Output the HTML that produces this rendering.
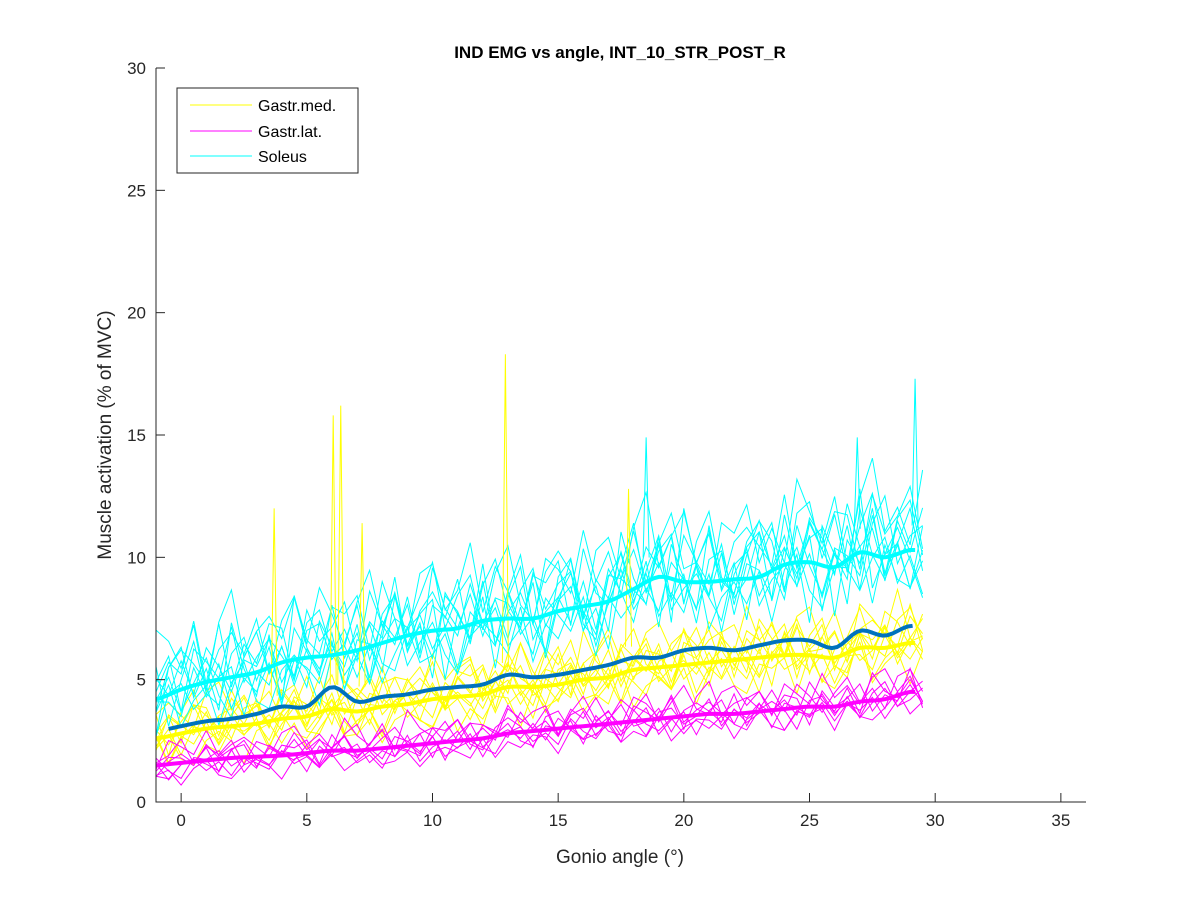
<!DOCTYPE html>
<html><head><meta charset="utf-8"><style>
body{margin:0;background:#fff;}
svg text{font-family:"Liberation Sans",Arial,sans-serif;}
</style></head><body>
<svg id="chart" width="1200" height="900" xmlns="http://www.w3.org/2000/svg">
<rect width="1200" height="900" fill="#fff"/>
<g id="plot"></g>
<g id="axes"></g>
</svg>
<script>
const xTicks=[0,5,10,15,20,25,30,35];
const yTicks=[0,5,10,15,20,25,30];
const meanX=[-1,0,1,2,3,4,5,6,7,8,9,10,11,12,13,14,15,16,17,18,19,20,21,22,23,24,25,26,27,28,29];
const cyanMean=[4.2,4.6,4.9,5.1,5.3,5.7,5.9,6.0,6.2,6.5,6.8,7.0,7.1,7.4,7.5,7.5,7.8,8.0,8.2,8.7,9.2,9.0,9.0,9.1,9.2,9.7,9.8,9.6,10.2,10.0,10.3];
const blueMean=[2.9,3.1,3.3,3.4,3.6,3.9,3.9,4.7,4.1,4.3,4.4,4.6,4.7,4.8,5.2,5.1,5.2,5.4,5.6,5.9,5.9,6.2,6.3,6.2,6.4,6.6,6.6,6.3,7.0,6.8,7.2];
const yellowMean=[2.6,2.8,3.0,3.1,3.2,3.4,3.5,3.8,3.7,3.9,4.0,4.2,4.3,4.4,4.7,4.7,4.8,5.0,5.1,5.4,5.5,5.6,5.7,5.8,5.9,6.0,6.0,5.9,6.3,6.3,6.5];
const magentaMean=[1.5,1.6,1.7,1.8,1.85,1.9,2.0,2.1,2.1,2.2,2.3,2.4,2.5,2.6,2.8,2.9,3.0,3.1,3.2,3.3,3.4,3.5,3.6,3.6,3.7,3.8,3.9,3.9,4.1,4.2,4.5];
const noiseA=[0.5,-0.3,0.8,-0.6,1.0,0.2,-0.8,0.4,1.2,-0.5,0.3,-1.0,0.7,0.9,-0.4,0.1,1.3,-0.7,0.5,-0.2,0.8,-1.1,0.6,0.2,-0.5,1.1,-0.3,0.4,-0.9,0.7,1.4,-0.6,0.2,0.9,-0.4,-1.2,0.6,0.3,1.0,-0.5,0.2,-0.8,1.2,0.4,-0.3,0.9,-1.0,0.5,1.5,-0.2,0.3,-0.7,1.1,0.6,-0.4,0.8,-1.3,0.7,1.6,-0.5,0.2];
const noiseB=[-0.4,0.6,-0.9,0.3,0.1,-0.7,1.1,-0.2,0.5,0.8,-1.2,0.4,-0.3,1.0,-0.6,0.7,-0.1,0.9,-1.0,0.2,1.2,-0.4,-0.8,0.6,1.0,-0.3,0.5,-1.1,0.8,0.1,-0.6,1.3,-0.2,0.4,-0.9,0.7,1.1,-0.5,0.2,-1.3,0.9,0.3,-0.4,1.4,-0.7,0.1,0.6,-0.2,-1.0,0.8,1.2,-0.3,0.4,-0.8,1.5,0.2,-0.6,0.9,-1.1,1.7,0.3];
const noiseC=[0.9,-0.8,0.2,1.1,-0.4,-0.2,0.6,-1.0,0.3,0.7,0.1,-0.6,1.2,-0.9,0.4,-0.3,0.8,0.5,-1.2,0.9,-0.1,0.3,1.0,-0.7,0.2,-0.4,1.3,-1.0,0.1,0.6,-0.2,0.9,-1.1,0.5,1.2,-0.3,-0.8,0.7,0.4,0.9,-1.0,1.1,-0.2,-0.6,0.3,1.3,-0.8,0.2,0.7,-1.1,0.6,1.4,-0.4,-0.9,0.5,1.0,0.3,-1.2,0.8,1.1,-0.3];
const noises=[noiseA,noiseB,noiseC];
// trace: noise index, shift, offset(%), amplitude
const cyanTraces=[[0,0,0.6,1.4],[1,3,-0.8,1.3],[2,7,1.5,1.6],[0,11,-1.2,1.2],[1,17,0.2,1.8],[2,23,2.2,1.5],[0,29,-0.3,1.6],[1,37,1.0,1.4],[2,44,-1.6,1.2],[0,52,2.8,1.7],[1,48,-0.1,1.9]];
const yellowTraces=[[0,5,0.4,0.9],[1,9,-0.7,0.8],[2,13,1.0,0.9],[0,19,-0.4,0.8],[1,25,0.9,1.0],[2,31,-1.0,0.8],[0,41,0.1,0.9],[1,45,1.8,1.0],[2,50,-1.6,0.8],[0,55,0.6,1.1]];
const magentaTraces=[[1,2,0.3,0.6],[2,6,-0.4,0.6],[0,14,0.6,0.7],[1,21,-0.6,0.5],[2,27,0.1,0.7],[0,33,-0.2,0.6],[1,39,1.0,0.7],[2,47,-1.0,0.5]];
const spikesX=[3.7,6.05,6.35,7.2,12.9,17.8,18.5,29.2,26.9];
const spikesY=[12.0,15.8,16.2,11.4,18.3,12.8,14.9,17.3,14.9];
const spikeColor=["#ffff00","#ffff00","#ffff00","#ffff00","#ffff00","#ffff00","#00ffff","#00ffff","#00ffff"];

const X0=156,X1=1086,Y0=802,Y1=68;
const sx=v=>X0+(v+1)/37*(X1-X0);
const sy=v=>Y0-v/30*(Y0-Y1);
const NS="http://www.w3.org/2000/svg";
const plot=document.getElementById('plot'), axes=document.getElementById('axes');
function el(tag,attrs,parent){const e=document.createElementNS(NS,tag);for(const k in attrs)e.setAttribute(k,attrs[k]);parent.appendChild(e);return e;}
function meanAt(m,x){const n=m.length;const t=Math.max(0,Math.min(n-1.0001,x+1));const i=Math.floor(t),f=t-i;
  const p0=m[Math.max(0,i-1)],p1=m[i],p2=m[i+1],p3=m[Math.min(n-1,i+2)];
  return 0.5*((2*p1)+(-p0+p2)*f+(2*p0-5*p1+4*p2-p3)*f*f+(-p0+3*p1-3*p2+p3)*f*f*f);}
function drawTraces(traces,mean,color,name,xEnd){
  traces.forEach((tr,k)=>{
    const n=noises[tr[0]];let d='';
    for(let i=0;i<=61;i++){const x=-1+i*0.5;if(x>xEnd)break;
      const v=meanAt(mean,x)+tr[2]*0.5+n[(i+tr[1])%61]*tr[3]*(0.6+0.4*meanAt(mean,x)/meanAt(mean,29));
      d+=(i?'L':'M')+sx(x).toFixed(1)+','+sy(Math.max(0.5,v)).toFixed(1);}
    const p=el('path',{d,fill:'none',stroke:color,'stroke-width':1},plot);
    
    
  });
}
drawTraces(yellowTraces,yellowMean,'#ffff00','gastr-med',30.2);
drawTraces(magentaTraces,magentaMean,'#ff00ff','gastr-lat',30.2);
drawTraces(cyanTraces,cyanMean,'#00ffff','soleus',30.0);
spikesX.forEach((x,i)=>{
  const b=meanAt(spikeColor[i]=='#00ffff'?cyanMean:yellowMean,x)+1;
  const p=el('path',{d:`M${sx(x-0.12)},${sy(b)}L${sx(x)},${sy(spikesY[i])}L${sx(x+0.12)},${sy(b)}`,fill:'none',stroke:spikeColor[i],'stroke-width':1},plot);
  
  
});
function drawMean(m,color,name,w,x0,x1){
  let d='';let first=true;
  for(let x=x0;x<=x1+1e-6;x+=0.2){d+=(first?'M':'L')+sx(x).toFixed(1)+','+sy(meanAt(m,x)).toFixed(1);first=false;}
  const p=el('path',{d,fill:'none',stroke:color,'stroke-width':w,'stroke-linejoin':'round'},plot);
  
  
}
drawMean(yellowMean,'#ffff00','gastr-med-mean',4,-1,29.2);
drawMean(magentaMean,'#ff00ff','gastr-lat-mean',4,-1,29.2);
drawMean(cyanMean,'#00ffff','soleus-mean',4,-1,29.2);
drawMean(blueMean,'#0072bd','overall-mean',4,-0.5,29.2);

let a=el('path',{d:`M${X0},${Y1}V${Y0}H${X1}`,fill:'none',stroke:'#262626','stroke-width':1},axes);

xTicks.forEach(t=>{
  el('line',{x1:sx(t),x2:sx(t),y1:Y0,y2:Y0-9,stroke:'#262626'},axes);
  const tx=el('text',{x:sx(t),y:Y0+24,'font-size':17,'text-anchor':'middle',fill:'#262626'},axes);
  tx.textContent=t;
  
});
yTicks.forEach(t=>{
  el('line',{x1:X0,x2:X0+9,y1:sy(t),y2:sy(t),stroke:'#262626'},axes);
  const tx=el('text',{x:X0-10,y:sy(t)+6,'font-size':17,'text-anchor':'end',fill:'#262626'},axes);
  tx.textContent=t;
  
});
</script>
<svg style="position:absolute;left:0;top:0" width="1200" height="900" xmlns="http://www.w3.org/2000/svg">
<text x="620" y="58" font-size="17" font-weight="bold" text-anchor="middle" fill="#000">IND EMG vs angle, INT_10_STR_POST_R</text>
<text x="620" y="863" font-size="19" text-anchor="middle" fill="#262626">Gonio angle (°)</text>
<text transform="translate(111,435) rotate(-90)" font-size="19" text-anchor="middle" fill="#262626">Muscle activation (% of MVC)</text>
<g>
<rect x="177" y="88" width="181" height="85" fill="#fff" stroke="#262626" stroke-width="1"/>
<line x1="190" y1="105" x2="252" y2="105" stroke="#ffff00"/>
<text x="258" y="111" font-size="16" fill="#000">Gastr.med.</text>
<line x1="190" y1="131" x2="252" y2="131" stroke="#ff00ff"/>
<text x="258" y="137" font-size="16" fill="#000">Gastr.lat.</text>
<line x1="190" y1="156" x2="252" y2="156" stroke="#00ffff"/>
<text x="258" y="162" font-size="16" fill="#000">Soleus</text>
</g>
</svg>
</body></html>
